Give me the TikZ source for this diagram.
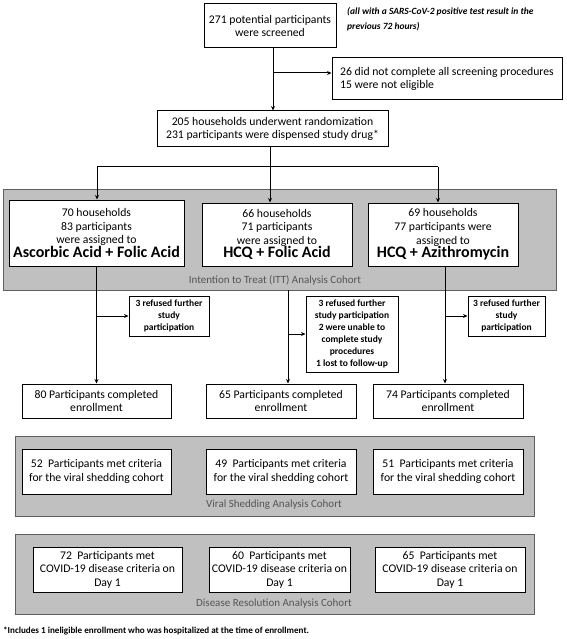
\documentclass[tikz,border=0pt]{standalone}
\usepackage{fontspec}
\setmainfont{Carlito}
\usetikzlibrary{arrows.meta}
\newcommand\fmain{\fontsize{11.7}{13.6}\selectfont}
\newcommand\fbig{\fontsize{16}{18}\selectfont\bfseries}
\newcommand\fside{\fontsize{9.5}{12}\selectfont\bfseries}
\newcommand\fnote{\fontsize{9.5}{15}\selectfont\bfseries\itshape}
\newcommand\flab{\fontsize{11}{13}\selectfont}
\newcommand\ffoot{\fontsize{9.1}{11}\selectfont\bfseries}
\definecolor{panelgray}{RGB}{192,192,192}
\definecolor{panelline}{RGB}{95,95,95}
\definecolor{labgray}{RGB}{85,85,85}
\tikzset{
  box/.style={draw=black, line width=1pt, fill=white, align=center, inner sep=2pt, font=\fmain},
  sidebox/.style={draw=black, line width=1pt, fill=white, align=center, inner sep=2pt, font=\fside},
  panel/.style={draw=panelline, line width=0.8pt, fill=panelgray, inner sep=0pt},
  plab/.style={font=\flab, text=labgray, inner sep=0pt},
  conn/.style={line width=1pt, draw=black},
  arr/.style={conn, -{Stealth[length=4.5pt,width=4pt]}}
}
\begin{document}
\begin{tikzpicture}[x=1pt,y=-1pt]
\useasboundingbox (0,0) rectangle (566,639);
% panels
\node[panel, minimum width=553, minimum height=101] (p1) at (279.5,239.5) {};
\node[panel, minimum width=519, minimum height=80] (p2) at (274.5,476) {};
\node[panel, minimum width=519, minimum height=80] (p3) at (274.5,574) {};
\node[plab] (l1) at (275,280) {Intention to Treat (ITT) Analysis Cohort};
\node[plab] (l2) at (274,505) {Viral Shedding Analysis Cohort};
\node[plab] (l3) at (274,604) {Disease Resolution Analysis Cohort};
% top
\node[box, minimum width=132, minimum height=44] (b1) at (270,26) {271 potential participants\\were screened};
\node[font=\fnote, anchor=north west, align=left, inner sep=0pt] (note) at (347,7) {(all with a SARS-CoV-2 positive test result in the\\previous 72 hours)};
\node[box, minimum width=230, minimum height=42, align=left] (s0) at (447,79) {26 did not complete all screening procedures\\15 were not eligible};
\node[box, minimum width=231, minimum height=36] (b2) at (272.5,129) {205 households underwent randomization\\231 participants were dispensed study drug*};
% treatment arms
\node[box, minimum width=175, minimum height=66] (A) at (96.5,233) {70 households\\83 participants\\were assigned to\\{\fbig Ascorbic Acid + Folic Acid}};
\node[box, minimum width=150, minimum height=63] (B) at (277,234.5) {66 households\\71 participants\\were assigned to\\{\fbig HCQ + Folic Acid}};
\node[box, minimum width=150, minimum height=63] (C) at (443,234.5) {69 households\\77 participants were\\assigned to\\{\fbig HCQ + Azithromycin}};
% side boxes
\node[sidebox, minimum width=80, minimum height=40] (sL) at (169,316) {3 refused further\\study\\participation};
\node[sidebox, minimum width=92, minimum height=76] (sM) at (352,334) {3 refused further\\study participation\\2 were unable to\\complete study\\procedures\\1 lost to follow-up};
\node[sidebox, minimum width=77, minimum height=40] (sR) at (506.5,316) {3 refused further\\study\\participation};
% completed
\node[box, minimum width=149, minimum height=34] (c1) at (96.5,401) {80 Participants completed\\enrollment};
\node[box, minimum width=150, minimum height=34] (c2) at (281,401) {65 Participants completed\\enrollment};
\node[box, minimum width=150, minimum height=34] (c3) at (448,401) {74 Participants completed\\enrollment};
% viral shedding
\node[box, minimum width=149, minimum height=45] (v1) at (96.5,471.5) {52\ \ Participants met criteria\\for the viral shedding cohort};
\node[box, minimum width=150, minimum height=45] (v2) at (281,471.5) {49\ \ Participants met criteria\\for the viral shedding cohort};
\node[box, minimum width=150, minimum height=45] (v3) at (448,471.5) {51\ \ Participants met criteria\\for the viral shedding cohort};
% disease resolution
\node[box, minimum width=149, minimum height=45] (d1) at (107.5,569.5) {72\ \ Participants met\\COVID-19 disease criteria on\\Day 1};
\node[box, minimum width=141, minimum height=45] (d2) at (279.5,569.5) {60\ \ Participants met\\COVID-19 disease criteria on\\Day 1};
\node[box, minimum width=150, minimum height=45] (d3) at (450,569.5) {65\ \ Participants met\\COVID-19 disease criteria on\\Day 1};
% footnote
\node[font=\ffoot, anchor=west, inner sep=0pt] (foot) at (3,631) {*Includes 1 ineligible enrollment who was hospitalized at the time of enrollment.};
% connectors
\coordinate (tx) at (273,73);
\coordinate (bx) at (270,0);
\coordinate (jL) at (97,167);
\coordinate (jR) at (438,167);
\coordinate (mx) at (288,0);
\coordinate (rx) at (445,0);
\draw[arr] (b1.south -| tx) -- (b2.north -| tx);
\draw[arr] (tx) -- (s0.west |- tx);
\draw[conn] (jL) -- (jR);
\draw[arr] (b2.south -| bx) -- (B.north -| bx);
\draw[arr] (jL) -- (jL |- A.north);
\draw[arr] (jR) -- (jR |- C.north);
\draw[arr] (A.south) -- (c1.north);
\draw[arr] (A.south |- sL.west) -- (sL.west);
\draw[arr] (p1.south -| mx) -- (c2.north -| mx);
\draw[arr] (mx |- sM.west) -- (sM.west);
\draw[arr] (C.south -| rx) -- (c3.north -| rx);
\draw[arr] (rx |- sR.west) -- (sR.west);
\end{tikzpicture}
\end{document}
